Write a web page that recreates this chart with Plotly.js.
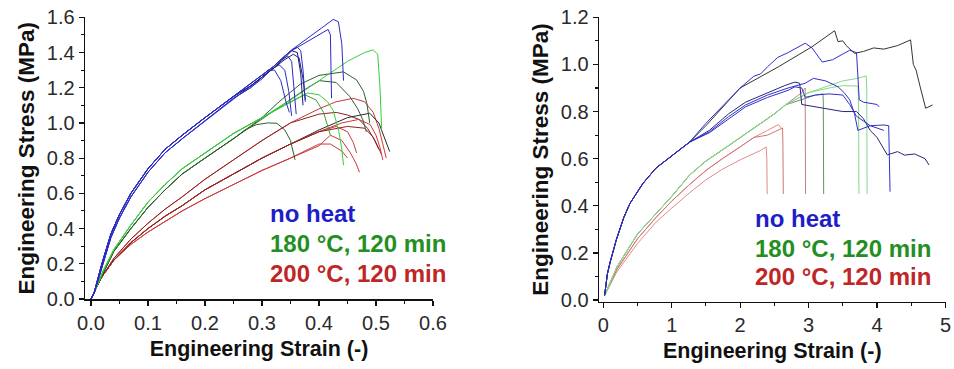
<!DOCTYPE html>
<html>
<head>
<meta charset="utf-8">
<script src="https://cdn.plot.ly/plotly-3.0.1.min.js"></script>
<style>html,body{margin:0;padding:0;background:#fff;}#chart{width:954px;height:369px;}</style>
</head>
<body>
<div id="chart"></div>
<script>
// ---------------- LEFT PANEL (strain 0-0.6) ----------------
const L_BLUE_RISE_X = [0, 0.005, 0.01, 0.02, 0.035, 0.05, 0.07, 0.1, 0.13, 0.16, 0.2, 0.25];
const L_BLUE_RISE_Y = [0, 0.03, 0.09, 0.21, 0.37, 0.48, 0.60, 0.74, 0.85, 0.93, 1.03, 1.15];
const L_BLUE_RISE2_Y = [0, 0.03, 0.08, 0.19, 0.35, 0.46, 0.58, 0.72, 0.83, 0.91, 1.01, 1.14];

const L_B1_X = [0.28, 0.30, 0.32, 0.34, 0.35, 0.425, 0.434, 0.44, 0.443];
const L_B1_Y = [1.22, 1.27, 1.32, 1.38, 1.41, 1.588, 1.575, 1.45, 1.24];
const L_B2_X = [0.28, 0.30, 0.32, 0.34, 0.352, 0.416, 0.42, 0.422];
const L_B2_Y = [1.22, 1.27, 1.32, 1.38, 1.41, 1.531, 1.50, 1.14];
const L_B3_X = [0.28, 0.30, 0.32, 0.34, 0.355, 0.362, 0.368, 0.372, 0.376];
const L_B3_Y = [1.22, 1.27, 1.32, 1.38, 1.42, 1.43, 1.41, 1.30, 1.12];
const L_B4_X = [0.28, 0.30, 0.32, 0.34, 0.352, 0.362, 0.368, 0.372];
const L_B4_Y = [1.21, 1.26, 1.31, 1.37, 1.41, 1.40, 1.28, 1.10];
const L_B5_X = [0.28, 0.30, 0.32, 0.335, 0.345, 0.352, 0.356, 0.36];
const L_B5_Y = [1.21, 1.26, 1.31, 1.36, 1.38, 1.35, 1.20, 1.05];
const L_B6_X = [0.28, 0.30, 0.315, 0.33, 0.34, 0.347, 0.352];
const L_B6_Y = [1.20, 1.25, 1.30, 1.33, 1.30, 1.18, 1.04];
const L_B7_X = [0.28, 0.30, 0.31, 0.322, 0.333, 0.342, 0.348];
const L_B7_Y = [1.20, 1.26, 1.30, 1.30, 1.24, 1.12, 1.06];
const L_B8_X = [0.28, 0.30, 0.32, 0.34, 0.355, 0.365, 0.372, 0.376];
const L_B8_Y = [1.21, 1.26, 1.31, 1.36, 1.39, 1.37, 1.25, 1.13];

const L_GREEN_RISE_X = [0, 0.005, 0.01, 0.02, 0.04, 0.07, 0.1, 0.13, 0.16, 0.2, 0.25];
const L_GREEN_RISE_Y = [0, 0.03, 0.07, 0.15, 0.28, 0.42, 0.55, 0.65, 0.74, 0.83, 0.94];
const L_GREEN_RISE2_Y = [0, 0.03, 0.07, 0.14, 0.27, 0.40, 0.52, 0.62, 0.71, 0.80, 0.91];

const L_G1_X = [0.3, 0.35, 0.4, 0.45, 0.48, 0.495, 0.503, 0.507, 0.51];
const L_G1_Y = [1.03, 1.13, 1.24, 1.35, 1.40, 1.415, 1.39, 1.20, 0.96];
const L_G2_X = [0.3, 0.35, 0.38, 0.40, 0.415, 0.425, 0.435, 0.44, 0.443];
const L_G2_Y = [1.03, 1.12, 1.17, 1.16, 1.12, 1.07, 0.95, 0.85, 0.76];
const L_G3_X = [0.3, 0.35, 0.375, 0.395, 0.408, 0.415, 0.42];
const L_G3_Y = [1.03, 1.12, 1.16, 1.13, 1.06, 0.98, 0.93];
const L_DG1_X = [0.27, 0.29, 0.31, 0.326, 0.34, 0.35, 0.358];
const L_DG1_Y = [0.96, 0.99, 1.0, 0.998, 0.96, 0.90, 0.79];
const L_DG2_X = [0.3, 0.33, 0.367, 0.40, 0.443, 0.466, 0.478, 0.484, 0.489];
const L_DG2_Y = [1.03, 1.12, 1.22, 1.27, 1.29, 1.244, 1.18, 1.11, 1.0];
const L_DG3_X = [0.3, 0.35, 0.38, 0.401, 0.43, 0.454, 0.468, 0.477, 0.483];
const L_DG3_Y = [1.02, 1.13, 1.20, 1.24, 1.23, 1.15, 1.08, 1.017, 0.95];

const L_RED_RISE_X = [0, 0.005, 0.01, 0.02, 0.04, 0.07, 0.1, 0.13, 0.16, 0.2, 0.25, 0.3, 0.35];
const L_RED_RISE_A_Y = [0, 0.03, 0.07, 0.13, 0.22, 0.32, 0.40, 0.47, 0.53, 0.62, 0.71, 0.80, 0.88];
const L_RED_RISE_B_Y = [0, 0.03, 0.07, 0.13, 0.23, 0.34, 0.43, 0.51, 0.58, 0.68, 0.79, 0.90, 1.00];
const L_RED_RISE_C_Y = [0, 0.03, 0.07, 0.13, 0.22, 0.31, 0.38, 0.44, 0.50, 0.57, 0.65, 0.73, 0.80];

const L_R1_X = [0.4, 0.43, 0.46, 0.48, 0.495, 0.505, 0.513, 0.518];
const L_R1_Y = [1.08, 1.12, 1.14, 1.12, 1.06, 0.97, 0.87, 0.80];
const L_R2_X = [0.4, 0.43, 0.45, 0.47, 0.485, 0.498, 0.51];
const L_R2_Y = [1.05, 1.06, 1.045, 1.02, 0.97, 0.90, 0.82];
const L_K1_X = [0.4, 0.45, 0.489, 0.505, 0.515, 0.524];
const L_K1_Y = [0.96, 1.03, 1.055, 1.0, 0.92, 0.837];
const L_R3_X = [0.4, 0.44, 0.47, 0.49, 0.50, 0.507, 0.512];
const L_R3_Y = [0.95, 1.00, 1.02, 0.99, 0.93, 0.86, 0.79];
const L_R4_X = [0.4, 0.43, 0.45, 0.46, 0.466];
const L_R4_Y = [0.95, 0.98, 0.95, 0.89, 0.83];
const L_R5_X = [0.4, 0.42, 0.44, 0.455, 0.465, 0.471];
const L_R5_Y = [0.87, 0.93, 0.90, 0.83, 0.77, 0.72];
const L_R6_X = [0.38, 0.40, 0.42, 0.44, 0.45];
const L_R6_Y = [0.85, 0.88, 0.88, 0.84, 0.80];
const L_R7_X = [0.4, 0.45, 0.48, 0.495, 0.505];
const L_R7_Y = [0.95, 0.98, 0.97, 0.92, 0.85];

// ---------------- RIGHT PANEL (strain 0-5) ----------------
const R_BLUE_RISE_X = [0.02, 0.06, 0.1, 0.19, 0.3, 0.39, 0.58, 0.77, 0.97, 1.26];
const R_BLUE_RISE_Y = [0.02, 0.11, 0.16, 0.255, 0.35, 0.41, 0.495, 0.56, 0.605, 0.67];

const R_K1_X = [1.5, 2.0, 2.56, 3.05, 3.38, 3.43, 3.5, 3.55, 3.67, 3.8, 3.95, 4.1, 4.3, 4.49, 4.53, 4.57, 4.63, 4.71, 4.81];
const R_K1_Y = [0.74, 0.90, 0.99, 1.075, 1.143, 1.097, 1.10, 1.08, 1.047, 1.055, 1.07, 1.065, 1.08, 1.104, 1.0, 0.976, 0.905, 0.814, 0.828];
const R_BU1_X = [1.5, 1.8, 2.0, 2.2, 2.3, 2.4, 2.55, 2.7, 2.95, 3.05, 3.2, 3.35, 3.6, 3.7, 3.74, 3.8, 3.9, 4.0, 4.03];
const R_BU1_Y = [0.75, 0.84, 0.90, 0.95, 0.96, 0.99, 1.03, 1.05, 1.09, 1.07, 1.01, 1.02, 1.06, 1.05, 0.85, 0.84, 0.835, 0.83, 0.82];
const R_BL1_X = [1.55, 1.83, 2.08, 2.4, 2.7, 2.95, 3.07, 3.25, 3.43, 3.52, 3.6, 3.67, 3.72, 3.9, 4.1, 4.17, 4.19];
const R_BL1_Y = [0.714, 0.778, 0.828, 0.87, 0.90, 0.92, 0.941, 0.93, 0.905, 0.88, 0.85, 0.792, 0.72, 0.74, 0.743, 0.74, 0.46];
const R_BL2_X = [1.55, 1.83, 2.08, 2.4, 2.65, 2.8, 2.87, 2.9, 3.1, 3.3, 3.5, 3.7, 3.8, 3.9, 4.0, 4.15, 4.3, 4.4, 4.55, 4.7, 4.76];
const R_BL2_Y = [0.72, 0.79, 0.84, 0.88, 0.91, 0.925, 0.92, 0.83, 0.82, 0.81, 0.80, 0.80, 0.77, 0.72, 0.69, 0.616, 0.63, 0.615, 0.62, 0.60, 0.573];
const R_BL3_X = [1.55, 1.83, 2.08, 2.4, 2.7, 2.8, 2.9, 2.95, 3.1, 3.3, 3.5, 3.6, 3.7, 3.8, 3.9, 4.0, 4.1];
const R_BL3_Y = [0.71, 0.77, 0.82, 0.86, 0.89, 0.905, 0.90, 0.86, 0.87, 0.875, 0.87, 0.83, 0.78, 0.76, 0.74, 0.73, 0.72];

const R_GREEN_RISE_X = [0.02, 0.2, 0.5, 1.0, 1.26, 1.5, 1.74, 2.0, 2.22, 2.5, 2.66];
const R_GREEN_RISE_Y = [0.02, 0.14, 0.28, 0.44, 0.53, 0.59, 0.637, 0.69, 0.736, 0.79, 0.828];
const R_G1_X = [3.0, 3.3, 3.5, 3.7, 3.84, 3.85, 3.855];
const R_G1_Y = [0.88, 0.91, 0.93, 0.94, 0.951, 0.90, 0.45];
const R_G2_X = [3.0, 3.3, 3.5, 3.72, 3.73, 3.735];
const R_G2_Y = [0.88, 0.90, 0.91, 0.908, 0.86, 0.45];
const R_G3_X = [2.9, 3.1, 3.21, 3.215, 3.22];
const R_G3_Y = [0.85, 0.87, 0.875, 0.84, 0.45];
const R_P1_X = [2.9, 2.95, 2.955];
const R_P1_Y = [0.88, 0.90, 0.45];

const R_RED_RISE_X = [0.02, 0.2, 0.5, 0.77, 1.0, 1.26, 1.5, 1.74, 2.0, 2.2];
const R_RED_RISE_Y = [0.02, 0.12, 0.24, 0.33, 0.39, 0.455, 0.51, 0.555, 0.595, 0.62];
const R_RED_RISE2_Y = [0.02, 0.13, 0.26, 0.35, 0.42, 0.49, 0.55, 0.60, 0.65, 0.69];
const R_R1_X = [2.4, 2.56, 2.6];
const R_R1_Y = [0.72, 0.745, 0.73];
const R_R2_X = [2.4, 2.62, 2.625, 2.63];
const R_R2_Y = [0.70, 0.73, 0.65, 0.45];
const R_R3_X = [2.3, 2.38, 2.39, 2.395];
const R_R3_Y = [0.635, 0.65, 0.60, 0.45];

// legend texts and tick labels
const LEGEND_TEXT = ['no heat', '180 °C, 120 min', '200 °C, 120 min'];
const LEFT_XTICKS = [0, 0.1, 0.2, 0.3, 0.4, 0.5, 0.6];
const LEFT_YTICKS = [0, 0.2, 0.4, 0.6, 0.8, 1.0, 1.2, 1.4, 1.6];
const RIGHT_XTICKS = [0, 1, 2, 3, 4, 5];
const RIGHT_YTICKS = [0, 0.2, 0.4, 0.6, 0.8, 1.0, 1.2];

// --------------------------------------------------------
const traces = [];
function add(rx, ry, tx, ty, color, axis, width) {
  traces.push({
    x: rx.concat(tx), y: ry.concat(ty), type: 'scatter', mode: 'lines',
    xaxis: axis === 2 ? 'x2' : 'x', yaxis: axis === 2 ? 'y2' : 'y',
    line: {color: color, width: width || 1.0}, hoverinfo: 'skip', showlegend: false
  });
}
const BLUE = '#2b2bc8', NAVY = '#1d1d78', BGREEN = '#38cc38', MGREEN = '#3c9c3c', DGREEN = '#2f5f2f',
      RED = '#cc3838', DRED = '#8e2020', BLACK = '#2a2a2a';

add(L_RED_RISE_X, L_RED_RISE_B_Y, L_R1_X, L_R1_Y, RED, 1);
add(L_RED_RISE_X, L_RED_RISE_B_Y, L_R2_X, L_R2_Y, DRED, 1);
add(L_RED_RISE_X, L_RED_RISE_A_Y, L_K1_X, L_K1_Y, BLACK, 1);
add(L_RED_RISE_X, L_RED_RISE_A_Y, L_R3_X, L_R3_Y, RED, 1);
add(L_RED_RISE_X, L_RED_RISE_A_Y, L_R4_X, L_R4_Y, RED, 1);
add(L_RED_RISE_X, L_RED_RISE_C_Y, L_R5_X, L_R5_Y, RED, 1);
add(L_RED_RISE_X, L_RED_RISE_C_Y, L_R6_X, L_R6_Y, RED, 1);
add(L_RED_RISE_X, L_RED_RISE_A_Y, L_R7_X, L_R7_Y, DRED, 1);
add(L_GREEN_RISE_X, L_GREEN_RISE2_Y, L_DG1_X, L_DG1_Y, DGREEN, 1);
add(L_GREEN_RISE_X, L_GREEN_RISE2_Y, L_DG2_X, L_DG2_Y, DGREEN, 1);
add(L_GREEN_RISE_X, L_GREEN_RISE2_Y, L_DG3_X, L_DG3_Y, DGREEN, 1);
add(L_GREEN_RISE_X, L_GREEN_RISE_Y, L_G3_X, L_G3_Y, MGREEN, 1);
add(L_GREEN_RISE_X, L_GREEN_RISE_Y, L_G2_X, L_G2_Y, BGREEN, 1.2);
add(L_GREEN_RISE_X, L_GREEN_RISE_Y, L_G1_X, L_G1_Y, BGREEN, 1.3);
add(L_BLUE_RISE_X, L_BLUE_RISE2_Y, L_B7_X, L_B7_Y, BLUE, 1);
add(L_BLUE_RISE_X, L_BLUE_RISE2_Y, L_B6_X, L_B6_Y, BLUE, 1);
add(L_BLUE_RISE_X, L_BLUE_RISE2_Y, L_B5_X, L_B5_Y, BLUE, 1);
add(L_BLUE_RISE_X, L_BLUE_RISE_Y, L_B8_X, L_B8_Y, NAVY, 1);
add(L_BLUE_RISE_X, L_BLUE_RISE_Y, L_B4_X, L_B4_Y, NAVY, 1);
add(L_BLUE_RISE_X, L_BLUE_RISE_Y, L_B3_X, L_B3_Y, BLUE, 1.1);
add(L_BLUE_RISE_X, L_BLUE_RISE_Y, L_B2_X, L_B2_Y, BLUE, 1.1);
add(L_BLUE_RISE_X, L_BLUE_RISE_Y, L_B1_X, L_B1_Y, BLUE, 1.2);

const RRED = '#e08a8a', RRED2 = '#d47272', RPINK = '#b88282', RLGREEN = '#86d886', RDGREEN = '#6b8f6b',
      RBLUE = '#2e2ed0', RNAVY = '#26267a', RBLACK = '#333333';
add(R_RED_RISE_X, R_RED_RISE_Y, R_R3_X, R_R3_Y, RRED, 2);
add(R_RED_RISE_X, R_RED_RISE2_Y, R_R1_X, R_R1_Y, RRED, 2);
add(R_RED_RISE_X, R_RED_RISE2_Y, R_R2_X, R_R2_Y, RRED2, 2);
add(R_GREEN_RISE_X, R_GREEN_RISE_Y, R_P1_X, R_P1_Y, RPINK, 2);
add(R_GREEN_RISE_X, R_GREEN_RISE_Y, R_G3_X, R_G3_Y, RDGREEN, 2);
add(R_GREEN_RISE_X, R_GREEN_RISE_Y, R_G2_X, R_G2_Y, RLGREEN, 2);
add(R_GREEN_RISE_X, R_GREEN_RISE_Y, R_G1_X, R_G1_Y, RLGREEN, 2);
add(R_BLUE_RISE_X, R_BLUE_RISE_Y, R_BL2_X, R_BL2_Y, RNAVY, 2);
add(R_BLUE_RISE_X, R_BLUE_RISE_Y, R_BL3_X, R_BL3_Y, RBLUE, 2);
add(R_BLUE_RISE_X, R_BLUE_RISE_Y, R_BL1_X, R_BL1_Y, RBLUE, 2);
add(R_BLUE_RISE_X, R_BLUE_RISE_Y, R_K1_X, R_K1_Y, RBLACK, 2);
add(R_BLUE_RISE_X, R_BLUE_RISE_Y, R_BU1_X, R_BU1_Y, RBLUE, 2);

const FONT = 'Liberation Sans, Arial, sans-serif';
const W = 954, H = 369;
const px = v => v / W, py = v => 1 - v / H;

function makeAxis(domain, range, anchor, tickvals, tickformat, minorStep, titleText, titleSize, standoff) {
  return {
    domain: domain, range: range, anchor: anchor,
    showgrid: false, zeroline: false, showline: true, linecolor: '#111', linewidth: 1.4,
    ticks: 'outside', ticklen: 5, tickwidth: 1.2, tickcolor: '#111',
    tickvals: tickvals, tickformat: tickformat, ticklabeloverflow: 'allow',
    tickfont: {family: FONT, size: 20, color: '#2a2a2a'},
    minor: {ticks: 'outside', ticklen: 3, tickwidth: 1.1, tickcolor: '#111', dtick: minorStep, tick0: 0},
    title: {text: titleText, font: {family: FONT, size: titleSize, color: '#111', weight: 'bold'}, standoff: standoff},
    fixedrange: true
  };
}

const annotations = [];
const legColors = ['#1e1ec8', '#238f23', '#bf2626'];
const legLeftY = [213.5, 243.5, 273.5];
const legRightY = [218.5, 248, 276.5];
for (let i = 0; i < 3; i++) {
  annotations.push({text: LEGEND_TEXT[i], xref: 'paper', yref: 'paper', x: px(268), y: py(legLeftY[i]),
    xanchor: 'left', yanchor: 'middle', showarrow: false,
    font: {family: FONT, size: 24, color: legColors[i], weight: 'bold'}});
  annotations.push({text: LEGEND_TEXT[i], xref: 'paper', yref: 'paper', x: px(753), y: py(legRightY[i]),
    xanchor: 'left', yanchor: 'middle', showarrow: false,
    font: {family: FONT, size: 24, color: legColors[i], weight: 'bold'}});
}

const layout = {
  width: W, height: H, margin: {l: 0, r: 0, t: 0, b: 0},
  font: {family: FONT, size: 20, color: '#2a2a2a'},
  paper_bgcolor: '#fff', plot_bgcolor: '#fff', showlegend: false,
  xaxis: makeAxis([px(85), px(433)], [-0.0105, 0.6], 'y', LEFT_XTICKS, '.1f', 0.05, 'Engineering Strain (-)', 21.5, 8),
  yaxis: makeAxis([py(299.3), py(17.3)], [-0.002, 1.6], 'x', LEFT_YTICKS, '.1f', 0.1, 'Engineering Stress (MPa)', 22.5, 6),
  xaxis2: makeAxis([px(599), px(945.5)], [-0.062, 5], 'y2', RIGHT_XTICKS, 'd', 0.5, 'Engineering Strain (-)', 21.5, 8),
  yaxis2: makeAxis([py(301.7), py(17.3)], [-0.007, 1.2], 'x2', RIGHT_YTICKS, '.1f', 0.1, 'Engineering Stress (MPa)', 22.5, 6),
  annotations: annotations
};

Plotly.newPlot('chart', traces, layout, {staticPlot: true, displayModeBar: false});
</script>
</body>
</html>
